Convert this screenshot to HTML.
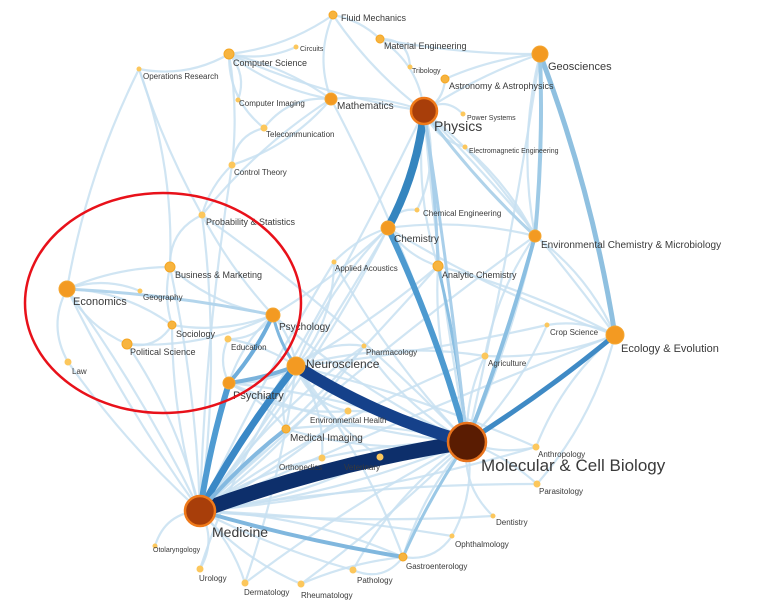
<!DOCTYPE html>
<html><head><meta charset="utf-8"><style>
html,body{margin:0;padding:0;background:#fff;width:765px;height:608px;overflow:hidden}
svg{display:block;font-family:"Liberation Sans",sans-serif}
text{fill:#3a3a3a}
</style></head><body>
<svg id="s" width="765" height="608" viewBox="0 0 765 608">
<g id="edges" fill="none" stroke-linecap="round"></g>
<g id="nodes"></g>
<g id="labels"></g>
<ellipse cx="163" cy="303" rx="138" ry="110" fill="none" stroke="#e8111a" stroke-width="2.5"/>
</svg>
<script>
const N={
FM:[333,15,4,"Fluid Mechanics",9],CI:[296,47,2,"Circuits",7],ME:[380,39,4,"Material Engineering",9],
GEO:[540,54,8,"Geosciences",11],CS:[229,54,5,"Computer Science",9],OR:[139,69,2,"Operations Research",8],
TR:[410,67,2,"Tribology",7],AA:[445,79,4,"Astronomy & Astrophysics",9],MA:[331,99,6,"Mathematics",10],
CIm:[238,100,2,"Computer Imaging",8],PH:[424,111,13,"Physics",14],PS:[463,114,2,"Power Systems",7],
TE:[264,128,3,"Telecommunication",8],EE:[465,147,2,"Electromagnetic Engineering",7],CT:[232,165,3,"Control Theory",8],
PR:[202,215,3,"Probability & Statistics",9],CE:[417,210,2,"Chemical Engineering",8],CH:[388,228,7,"Chemistry",10],
ECM:[535,236,6,"Environmental Chemistry & Microbiology",10],AC:[334,262,2,"Applied Acoustics",8],
BM:[170,267,5,"Business & Marketing",9],AN:[438,266,5,"Analytic Chemistry",9],EC:[67,289,8,"Economics",11],
GE:[140,291,2,"Geography",8],PSY:[273,315,7,"Psychology",10],SO:[172,325,4,"Sociology",9],CR:[547,325,2,"Crop Science",8],
EV:[615,335,9,"Ecology & Evolution",11],ED:[228,339,3,"Education",8],POL:[127,344,5,"Political Science",9],
LAW:[68,362,3,"Law",8],PHA:[364,346,2,"Pharmacology",8],AG:[485,356,3,"Agriculture",8],NE:[296,366,9,"Neuroscience",12],
PSI:[229,383,6,"Psychiatry",11],EH:[348,411,3,"Environmental Health",8],MI:[286,429,4,"Medical Imaging",10],
MCB:[467,442,19,"Molecular & Cell Biology",17],ANT:[536,447,3,"Anthropology",8],OT:[322,458,3,"Orthopedics",8],
VE:[380,457,3,"Veterinary",8],PA:[537,484,3,"Parasitology",8],MED:[200,511,15,"Medicine",14],DE:[493,516,2,"Dentistry",8],
OP:[452,536,2,"Ophthalmology",8],OL:[155,546,2,"Otolaryngology",7],GA:[403,557,4,"Gastroenterology",8],
UR:[200,569,3,"Urology",8],PAT:[353,570,3,"Pathology",8],DER:[245,583,3,"Dermatology",8],RH:[301,584,3,"Rheumatology",8]};
const L={FM:[8,6],CI:[4,4],ME:[4,10],GEO:[8,16],CS:[4,12],OR:[4,10],TR:[2,6],AA:[4,10],MA:[6,10],CIm:[1,6],PH:[10,20],PS:[4,6],TE:[2,9],EE:[4,6],CT:[2,10],PR:[4,10],CE:[6,6],CH:[6,14],ECM:[6,12],AC:[1,9],BM:[5,11],AN:[4,12],EC:[6,16],GE:[3,9],PSY:[6,15],SO:[4,12],CR:[3,10],EV:[6,17],ED:[3,11],POL:[3,11],LAW:[4,12],PHA:[2,9],AG:[3,10],NE:[10,2],PSI:[4,16],EH:[-38,12],MI:[4,12],MCB:[14,29],ANT:[2,10],OT:[-43,12],VE:[-36,13],PA:[2,10],MED:[12,26],DE:[3,9],OP:[3,11],OL:[-2,6],GA:[3,12],UR:[-1,12],PAT:[4,13],DER:[-1,12],RH:[0,14]};
const light=[["FM","ME"],["FM","PH"],["FM","CS"],["FM","MA"],["ME","PH"],["ME","GEO"],["CS","MA"],["CS","PH"],["CS","OR"],["CS","TE"],["CS","CT"],["CS","CI"],["CS","CIm"],["OR","EC"],["OR","BM"],["OR","PR"],["MA","PH"],["MA","PR"],["MA","CT"],["MA","TE"],["PH","GEO"],["PH","AA"],["PH","ECM"],["PH","AN"],["PH","CE"],["PH","MCB"],["PH","EV"],["PH","EE"],["PH","PS"],["GEO","ECM"],["GEO","MCB"],["CH","AN"],["CH","ECM"],["CH","NE"],["CH","MED"],["CH","AC"],["ECM","MCB"],["ECM","AG"],["ECM","EV"],["AN","MCB"],["AN","NE"],["EV","CR"],["EV","AG"],["EV","ANT"],["EV","PA"],["EV","MED"],["EC","BM"],["EC","POL"],["EC","SO"],["EC","LAW"],["EC","PSY"],["EC","MED"],["EC","GE"],["BM","PSY"],["BM","PR"],["BM","SO"],["BM","MED"],["SO","PSY"],["SO","POL"],["POL","PSY"],["PSY","NE"],["PSY","PSI"],["PSY","ED"],["PSY","MCB"],["PR","MED"],["PR","PSY"],["NE","PSI"],["NE","MI"],["NE","PHA"],["NE","EH"],["MED","MI"],["MED","EH"],["MED","OT"],["MED","VE"],["MED","GA"],["MED","PAT"],["MED","DER"],["MED","RH"],["MED","UR"],["MED","OL"],["MED","OP"],["MED","DE"],["MED","PA"],["MED","ANT"],["MED","AG"],["MED","AN"],["MED","LAW"],["MCB","GA"],["MCB","OP"],["MCB","DE"],["MCB","PA"],["MCB","ANT"],["MCB","VE"],["MCB","EH"],["MCB","MI"],["MCB","OT"],["MCB","AG"],["MCB","CR"],["MCB","PHA"],["MCB","PAT"],["MCB","RH"],["MCB","DER"],["MCB","AC"],["MCB","PSI"],["MA","MCB"],["CT","PR"],["MED","CT"],["MED","PH"],["NE","GA"],["PSI","MCB"],["CH","PSY"],
["MED","CH"],["MED","ECM"],["MED","PHA"],["NE","AG"],["NE","CR"],["NE","ANT"],["NE","VE"],["NE","OT"],["PSI","EH"],["PSI","MI"],["MED","EC"],["MED","SO"],["MED","POL"],["AC","NE"],["AC","MED"],["AN","EV"],["CH","EV"],["MI","MCB"],["PHA","MED"],["ED","NE"],["ED","PSI"],["MA","CS"],["TE","CT"],["ME","TR"],["GEO","AA"],["EE","ECM"],["CE","CH"],["OP","GA"],["PAT","GA"],["RH","GA"],["DER","NE"],["UR","NE"],["MCB","PR"],["MCB","MED"]];
const heavy=[["MED","MCB",15,"#0d2f6b",-14],["NE","MCB",12,"#15418a",14],["PH","CH",8,"#3585bf",-12],["CH","MCB",6,"#4d9ad0",-10],["MED","NE",7,"#3a88c6",-8],["MED","PSI",6,"#4f9bd2",-5],["EV","MCB",5,"#3f8ac5",-6],["GEO","EV",5,"#8fc0e0",-15],["GEO","ECM",4,"#9ecae6",-6],["PH","ECM",3,"#b0d3ea",8],["PSY","PSI",4,"#6eaddb",-6],["PSY","NE",3,"#7fb7df",6],["NE","PSI",4,"#7ab2db",-4],["MED","MI",4,"#84b9e0",-6],["ECM","MCB",4,"#8bbfe2",-6],["AN","MCB",3,"#8bbfe2",-6],["MED","GA",4,"#80b7de",6],["GA","MCB",3,"#9ac8e6",-6],["EC","PSY",3,"#b3d5ec",-8],["PH","AN",3,"#a9cfea",-5],["PH","MCB",3,"#a9cfea",-4]];
const E=document.getElementById("edges"),NS="http://www.w3.org/2000/svg";
function path(a,b,w,c,k,op){const[x1,y1]=N[a],[x2,y2]=N[b];const mx=(x1+x2)/2,my=(y1+y2)/2,dx=x2-x1,dy=y2-y1,l=Math.hypot(dx,dy)||1;const cx=mx-dy/l*k,cy=my+dx/l*k;const p=document.createElementNS(NS,"path");p.setAttribute("d",`M${x1},${y1} Q${cx},${cy} ${x2},${y2}`);p.setAttribute("stroke",c);p.setAttribute("stroke-width",w);p.setAttribute("opacity",op);E.appendChild(p);}
light.forEach((e,i)=>path(e[0],e[1],2.2,"#c8e0f1",(i%2?1:-1)*(8+i%5*3),0.85));
heavy.forEach(e=>path(e[0],e[1],e[2],e[3],e[4],1));
const G=document.getElementById("nodes"),T=document.getElementById("labels");
for(const k in N){const[x,y,r,name,fs]=N[k];const c=document.createElementNS(NS,"circle");c.setAttribute("cx",x);c.setAttribute("cy",y);c.setAttribute("r",r);
let fill="#f7b43f",st="#f5a623";if(r<=3){fill="#fcc75c";st="#fcc75c"}if(r>=12){fill="#a83e0a";st="#ef7a1a"}if(r>=18){fill="#5a1c02";st="#e8731c"}if(r>=6&&r<12){fill="#f39a22";st="#f4a733"}
c.setAttribute("fill",fill);c.setAttribute("stroke",st);c.setAttribute("stroke-width",r>=12?2.5:1);G.appendChild(c);
const t=document.createElementNS(NS,"text");const o=L[k]||[4,10];t.setAttribute("x",x+o[0]);t.setAttribute("y",y+o[1]);t.setAttribute("font-size",fs);t.textContent=name;T.appendChild(t);}
</script>
</body></html>
